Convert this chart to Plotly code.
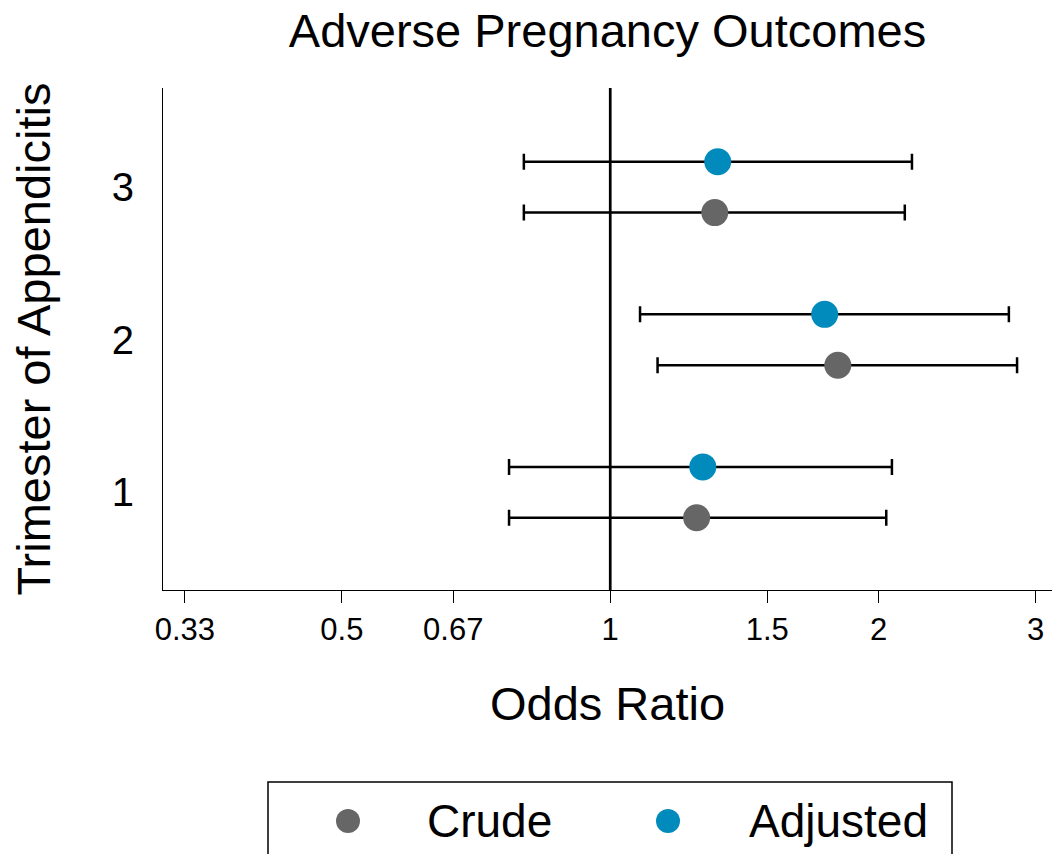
import math
import plotly.graph_objects as go

# ---- data ----
trimesters = [1, 2, 3]
crude_or = [1.25, 1.80, 1.31]
crude_lo = [0.77, 1.13, 0.80]
crude_hi = [2.04, 2.86, 2.14]
adj_or = [1.27, 1.74, 1.32]
adj_lo = [0.77, 1.08, 0.80]
adj_hi = [2.07, 2.80, 2.18]

x_tickvals = [1/3, 0.5, 2/3, 1, 1.5, 2, 3]
x_ticktext = ["0.33", "0.5", "0.67", "1", "1.5", "2", "3"]
y_tickvals = [1, 2, 3]
y_ticktext = ["1", "2", "3"]

GREY = "rgb(102,102,102)"
BLUE = "rgb(0,139,188)"
FONT = "Liberation Sans, Arial, Helvetica, sans-serif"
OFF = 1 / 6

W, H = 1052, 854
ML, MR, MT, MB = 163, 0, 88, 264

fig = go.Figure()

def add_series(name, ors, los, his, color, offset):
    fig.add_trace(go.Scatter(
        x=ors,
        y=[t + offset for t in trimesters],
        mode="markers",
        name=name,
        marker=dict(color=color, size=27, line=dict(width=0)),
        error_x=dict(type="data", symmetric=False,
                     array=[h - o for h, o in zip(his, ors)],
                     arrayminus=[o - l for o, l in zip(ors, los)],
                     color="black", thickness=2.5, width=8),
        showlegend=False,
        hoverinfo="skip",
    ))

add_series("Crude", crude_or, crude_lo, crude_hi, GREY, -OFF)
add_series("Adjusted", adj_or, adj_lo, adj_hi, BLUE, OFF)

# reference line at OR = 1
fig.add_shape(type="line", xref="x", yref="paper", x0=1, x1=1, y0=0, y1=1,
              line=dict(color="black", width=2.7), layer="below")

# ---- custom legend (pixel -> paper conversion) ----
pw = W - ML - MR
ph = H - MT - MB
def px(x):
    return (x - ML) / pw
def py(y):
    return (H - MB - y) / ph

fig.add_shape(type="rect", xref="paper", yref="paper",
              x0=px(268), x1=px(952), y0=py(858), y1=py(782),
              line=dict(color="black", width=1.5), fillcolor="white")
legend_items = [("Crude", GREY, 348, 428), ("Adjusted", BLUE, 668, 750)]
for label, color, mx, tx in legend_items:
    fig.add_shape(type="circle", xref="paper", yref="paper",
                  xsizemode="pixel", ysizemode="pixel",
                  xanchor=px(mx), yanchor=py(821),
                  x0=-12, x1=12, y0=-12, y1=12,
                  fillcolor=color, line=dict(width=0))
    fig.add_annotation(xref="paper", yref="paper", x=px(tx - 3), y=py(821),
                       text=label, showarrow=False, xanchor="left",
                       yanchor="middle",
                       font=dict(family=FONT, size=46, color="black"))

fig.update_layout(
    width=W, height=H,
    margin=dict(l=ML, r=MR, t=MT, b=MB, pad=0),
    paper_bgcolor="white", plot_bgcolor="white",
    font=dict(family=FONT, color="black"),
    title=dict(text="Adverse Pregnancy Outcomes", x=0.5, xref="paper",
               xanchor="center", y=1 - 31 / H, yref="container",
               yanchor="middle", font=dict(size=47, color="black")),
    showlegend=False,
)

fig.update_xaxes(
    type="log",
    range=[math.log10(0.315), math.log10(3.13)],
    tickvals=x_tickvals, ticktext=x_ticktext,
    ticks="outside", ticklen=12, tickwidth=1.2, tickcolor="black",
    tickfont=dict(size=31, color="black"),
    ticklabelstandoff=0,
    showline=True, linecolor="black", linewidth=1.2,
    showgrid=False, zeroline=False,
    title=dict(text="Odds Ratio", font=dict(size=47, color="black"), standoff=40),
)
fig.update_yaxes(
    range=[0.36, 3.65],
    tickvals=y_tickvals, ticktext=y_ticktext,
    ticks="", tickfont=dict(size=40, color="black"),
    ticklabelstandoff=20,
    showline=True, linecolor="black", linewidth=1.2,
    showgrid=False, zeroline=False,
    title=dict(text="Trimester of Appendicitis", font=dict(size=47, color="black"), standoff=46),
)

fig.write_html(
    "out.html",
    config={"displayModeBar": False},
    post_script="document.body.style.margin='0';document.body.style.overflow='hidden';",
)
